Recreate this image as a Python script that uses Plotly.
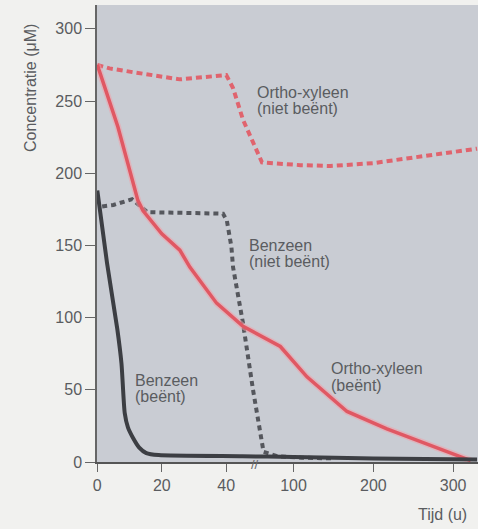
import plotly.graph_objects as go

# ---- data (time in hours, concentration in µM) ----
benz_beent_t = [0, 3, 6.2, 7.5, 8.5, 9.5, 11, 13, 15.2, 19, 45, 100, 200, 330]
benz_beent_c = [188, 138, 92, 68, 34, 24, 17, 10, 6.2, 4.8, 4, 3.5, 2.5, 1.8]

benz_niet_t = [1.5, 5, 10.8, 15.5, 39, 40.2, 41.6, 42.1, 45.2, 48.3, 62.4, 80, 110, 150]
benz_niet_c = [177, 178, 182, 173, 172, 167, 149, 135, 96, 50, 7, 4, 3, 2.5]

ox_beent_t = [0, 6.4, 12.6, 14.2, 20, 25.6, 28.7, 37, 45.2, 83.4, 116.8, 167, 217, 275.7, 322]
ox_beent_c = [275, 232, 181, 174, 158, 146.7, 135, 110, 94, 80, 59, 35, 23, 10.4, 1]

ox_niet_t = [0, 3.8, 11, 25.6, 40, 42.1, 45.2, 48.3, 60.4, 108.5, 146, 200, 267, 330]
ox_niet_c = [275, 272.6, 270, 265, 268, 259, 237, 221, 207.5, 205.6, 205, 207, 212.5, 217]

tick_times = [0, 20, 40, 100, 200, 300]
tick_labels = ["0", "20", "40", "100", "200", "300"]
y_ticks = [0, 50, 100, 150, 200, 250, 300]

# ---- broken time axis: 0..49 linear, then compressed from 52 onward ----
BREAK_LEFT = 49.0
BREAK_RIGHT = 52.0
RIGHT_SCALE = 0.2475


def axis_pos(t):
    if t <= BREAK_LEFT:
        return t
    if t >= BREAK_RIGHT:
        return BREAK_LEFT + (t - BREAK_RIGHT) * RIGHT_SCALE
    return BREAK_LEFT


def conv(ts):
    return [axis_pos(t) for t in ts]


RED = "#e05863"
RED_DOT = "#e0646e"
DARK = "#3c3e43"
DARK_DOT = "#55575d"
TXT = "#5a5c60"
FONT = "Liberation Sans, Arial, sans-serif"

fig = go.Figure()

fig.add_trace(go.Scatter(x=conv(ox_niet_t), y=ox_niet_c, mode="lines",
                         line=dict(color=RED_DOT, width=4, dash="6px,4px")))
fig.add_trace(go.Scatter(x=conv(benz_niet_t), y=benz_niet_c, mode="lines",
                         line=dict(color=DARK_DOT, width=4, dash="5px,4px")))
fig.add_trace(go.Scatter(x=conv(ox_beent_t), y=ox_beent_c, mode="lines",
                         line=dict(color="rgba(240,160,170,0.55)", width=6.5), hoverinfo="skip"))
fig.add_trace(go.Scatter(x=conv(ox_beent_t), y=ox_beent_c, mode="lines",
                         line=dict(color=RED, width=3.5)))
fig.add_trace(go.Scatter(x=conv(benz_beent_t), y=benz_beent_c, mode="lines",
                         line=dict(color=DARK, width=4, shape="spline", smoothing=0.6)))

ML, MR, MT, MB = 97, 0, 5, 67
W, H = 478, 529
pw = W - ML - MR
ph = H - MT - MB


def px_x(px):
    return (px - ML) / pw


def px_y(py):
    return (H - MB - py) / ph


annos = [
    ("Ortho-xyleen", 256, 92.2),
    ("(niet beënt)", 256, 108.4),
    ("Benzeen", 248.3, 245.0),
    ("(niet beënt)", 248.3, 261.2),
    ("Benzeen", 134, 380.5),
    ("(beënt)", 134, 396.7),
    ("Ortho-xyleen", 330, 368.8),
    ("(beënt)", 330, 385.0),
]
annotations = []
for text, lx, cy in annos:
    annotations.append(dict(text=text, x=px_x(lx), y=px_y(cy), xref="paper", yref="paper",
                            xanchor="left", yanchor="middle", showarrow=False, borderpad=0,
                            font=dict(family=FONT, size=16, color=TXT)))

annotations.append(dict(text="Concentratie (μM)", x=px_x(30), y=px_y(88), xref="paper", yref="paper",
                        xanchor="center", yanchor="middle", textangle=-90, showarrow=False,
                        font=dict(family=FONT, size=16, color=TXT)))
annotations.append(dict(text="Tijd (u)", x=px_x(442), y=px_y(514), xref="paper", yref="paper",
                        xanchor="center", yanchor="middle", showarrow=False,
                        font=dict(family=FONT, size=16, color=TXT)))
annotations.append(dict(text="//", x=BREAK_LEFT, y=px_y(465), xref="x", yref="paper",
                        xanchor="center", yanchor="middle", showarrow=False,
                        font=dict(family=FONT, size=13, color="#666")))

fig.update_layout(
    width=W, height=H,
    margin=dict(l=ML, r=MR, t=MT, b=MB, pad=0),
    paper_bgcolor="#f1f1ef",
    plot_bgcolor="#c9ccd3",
    showlegend=False,
    hovermode=False,
    annotations=annotations,
    xaxis=dict(range=[-0.1, 118.1], tickvals=conv(tick_times), ticktext=tick_labels,
               showgrid=False, zeroline=False, showline=True, linecolor="#555",
               linewidth=1.5, ticks="outside", ticklen=8, tickcolor="#666", tickwidth=1.2,
               tickfont=dict(family=FONT, size=16, color=TXT)),
    yaxis=dict(range=[0, 316.5], tickvals=y_ticks,
               showgrid=False, zeroline=False, showline=True, linecolor="#666",
               linewidth=1.5, ticks="outside", ticklen=10, tickcolor="#666", tickwidth=1.2,
               tickfont=dict(family=FONT, size=16, color=TXT)),
)

fig.write_html("out.html", config={"displayModeBar": False},
               post_script="document.body.style.margin='0';document.body.style.padding='0';")
